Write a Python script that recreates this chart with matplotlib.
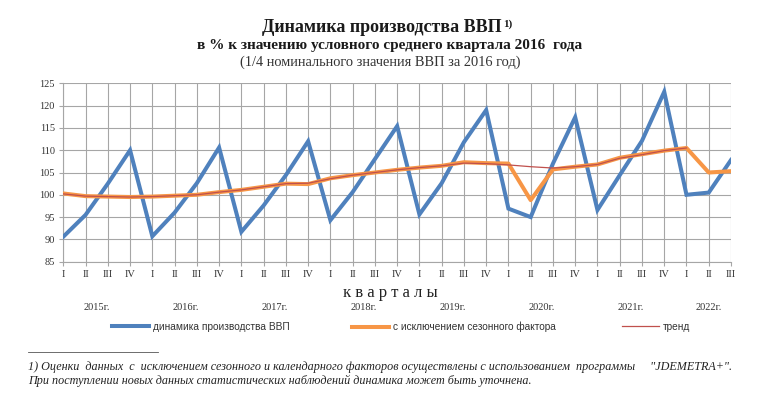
import numpy as np
import matplotlib
matplotlib.use("Agg")
import matplotlib.pyplot as plt
import matplotlib.transforms as mtransforms
from matplotlib.lines import Line2D

# ---- data ----
years = ["2015г.", "2016г.", "2017г.", "2018г.", "2019г.", "2020г.", "2021г.", "2022г."]
quarter_labels = ["I", "II", "III", "IV"] * 7 + ["I", "II", "III"]

gdp = [90.6, 95.5, 102.5, 110.0,
       90.7, 96.0, 102.6, 110.6,
       91.7, 97.6, 104.4, 112.0,
       94.3, 100.6, 108.0, 115.4,
       95.6, 102.6, 111.8, 119.0,
       96.9, 95.0, 107.0, 117.4,
       96.6, 104.4, 112.1, 123.1,
       100.0, 100.5, 107.8]

sa = [100.3, 99.7, 99.6, 99.5,
      99.6, 99.8, 100.0, 100.6,
      101.1, 101.8, 102.5, 102.4,
      103.7, 104.4, 105.0, 105.6,
      106.1, 106.5, 107.3, 107.1,
      107.0, 98.8, 105.7, 106.3,
      106.8, 108.3, 109.1, 109.9,
      110.5, 105.0, 105.3]

trend = [100.2, 99.7, 99.6, 99.5,
         99.6, 99.8, 100.0, 100.6,
         101.1, 101.8, 102.5, 102.6,
         103.6, 104.4, 105.0, 105.6,
         106.1, 106.5, 107.1, 107.0,
         106.7, 106.3, 106.0, 106.3,
         106.8, 108.2, 109.0, 109.9,
         110.5, np.nan, np.nan]

series_names = ["динамика производства ВВП", "с исключением сезонного фактора", "тренд"]

title1 = "Динамика производства ВВП"
title2 = "в % к значению условного среднего квартала 2016  года"
title3 = "(1/4 номинального значения ВВП за 2016 год)"
axis_label = "к в а р т а л ы"
note1 = '1) Оценки  данных  с  исключением сезонного и календарного факторов осуществлены с использованием  программы     "JDEMETRA+".'
note2 = "При поступлении новых данных статистических наблюдений динамика может быть уточнена."

# ---- figure ----
W, H = 758, 404
fig = plt.figure(figsize=(W / 100, H / 100), dpi=100)
serif = ["Liberation Serif", "DejaVu Serif"]
narrow = ["Liberation Sans Narrow", "Liberation Sans", "DejaVu Sans"]

def fx(px):
    return px / W

def fy(py):
    return 1 - py / H

left, right, top, bottom = 63.3, 731.0, 83.3, 261.7
ax = fig.add_axes([fx(left), fy(bottom), fx(right) - fx(left), fy(top) - fy(bottom)])

x = np.arange(len(gdp))
c_blue = "#4F81BD"
c_orange = "#F79646"
c_red = "#C0504D"

l1, = ax.plot(x, gdp, color=c_blue, lw=2.9, solid_joinstyle="miter", zorder=3)
l2, = ax.plot(x, sa, color=c_orange, lw=2.9, solid_joinstyle="round", zorder=4)
l3, = ax.plot(x, trend, color=c_red, lw=0.9, zorder=5)

ax.set_xlim(0, len(gdp) - 1)
ax.set_ylim(85, 125)
ax.set_yticks(np.arange(85, 126, 5))
ax.set_xticks(x)
ax.set_xticklabels(quarter_labels)
grid_c = "#A6A6A6"
ax.grid(True, color=grid_c, lw=0.8)
ax.set_axisbelow(True)
for s in ["top", "right"]:
    ax.spines[s].set_visible(False)
for s in ["left", "bottom"]:
    ax.spines[s].set_color(grid_c)
    ax.spines[s].set_linewidth(0.8)
ax.tick_params(axis="both", colors=grid_c, length=3, width=0.8)
ax.tick_params(axis="y", labelcolor="#333333", labelsize=7.5, pad=3)
ax.tick_params(axis="x", labelcolor="#333333", labelsize=7.5, pad=3)
for lab in ax.get_xticklabels() + ax.get_yticklabels():
    lab.set_fontfamily(serif)

# year labels centered under their quarters
blend = mtransforms.blended_transform_factory(ax.transData, fig.transFigure)
for i, yr in enumerate(years):
    idx = x[i * 4: i * 4 + 4]
    ax.text(idx.mean(), fy(307), yr, transform=blend,
            ha="center", va="center", fontsize=7.5, family=serif, color="#333333")

fig.text(fx(390), fy(293), axis_label, ha="center", va="center", fontsize=12,
         family=serif, color="#222222")

# titles
t1 = fig.text(fx(382), fy(27), title1, ha="center", va="center", fontsize=13,
              family=serif, fontweight="bold", color="#1a1a1a")
ax.annotate("1)", xy=(1, 1), xycoords=t1, xytext=(1, -1), textcoords="offset points",
            ha="left", va="top", fontsize=8, family=serif, fontweight="bold", color="#1a1a1a")
fig.text(fx(390), fy(46), title2, ha="center", va="center", fontsize=11,
         family=serif, fontweight="bold", color="#1a1a1a")
fig.text(fx(380), fy(62), title3, ha="center", va="center", fontsize=10.4,
         family=serif, color="#333333")

# legends
leg_kw = dict(frameon=False, handlelength=3.6, handletextpad=0.45, borderaxespad=0,
              prop={"family": narrow, "size": 7.3}, loc="center left")
for handle, name, xpx in [(l1, series_names[0], 108), (l2, series_names[1], 348), (l3, series_names[2], 618)]:
    lg = fig.legend([handle], [name], bbox_to_anchor=(fx(xpx), fy(327)), **leg_kw)
    for t in lg.get_texts():
        t.set_color("#333333")

# footnote
fig.add_artist(Line2D([fx(28), fx(158)], [fy(352), fy(352)], color="#555555", lw=0.6))
fig.text(fx(28), fy(367), note1, ha="left", va="center", fontsize=8.7, family=serif,
         style="italic", color="#222222")
fig.text(fx(28), fy(381), note2, ha="left", va="center", fontsize=8.7, family=serif,
         style="italic", color="#222222")

fig.savefig("out.png", dpi=100)
